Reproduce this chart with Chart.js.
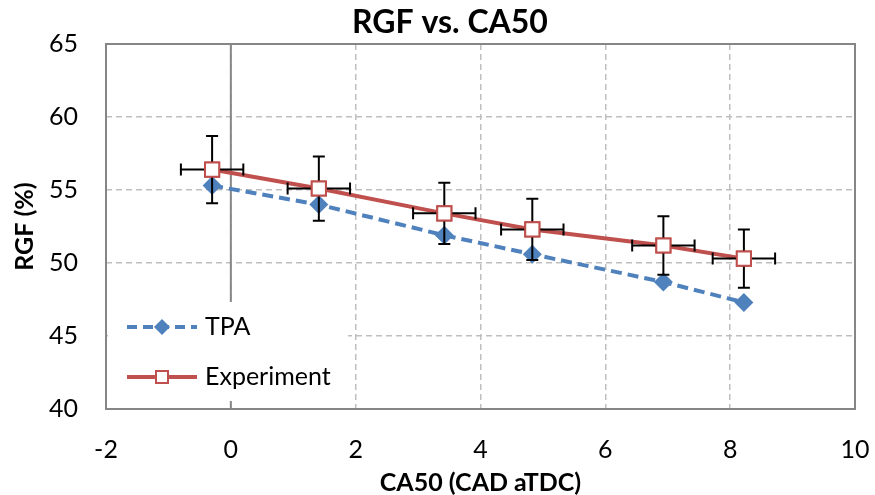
<!DOCTYPE html>
<html>
<head>
<meta charset="utf-8">
<script src="https://cdn.jsdelivr.net/npm/chart.js@4.4.0/dist/chart.umd.min.js"></script>
<style>
  html, body { margin: 0; padding: 0; background: #fff; }
  canvas { display: block; }
</style>
</head>
<body>
<canvas id="rgfChart" width="875" height="495"></canvas>
<script>
// Data
const ca50 = [-0.30, 1.41, 3.42, 4.83, 6.93, 8.22];
const tpaRgf = [55.3, 54.0, 51.9, 50.6, 48.7, 47.3];
const expRgf = [56.4, 55.1, 53.4, 52.3, 51.2, 50.3];
const expRgfErr = [2.3, 2.2, 2.1, 2.1, 2.0, 2.0];
const expCa50Err = [0.5, 0.5, 0.5, 0.5, 0.5, 0.5];
const seriesNames = ["TPA", "Experiment"];
const chartTitle = "RGF vs. CA50";

const BLUE = "#4F81BD";
const RED = "#C0504D";
const GRID = "#BFBFBF";
const FRAME = "#868686";
const FONT = "Lato, 'Open Sans', sans-serif";

function toPoints(xs, ys) {
  return xs.map((x, i) => ({ x: x, y: ys[i] }));
}

// Vertical axis line at x = 0 (Excel crossing), under the series
const zeroAxisPlugin = {
  id: "zeroAxis",
  beforeDatasetsDraw(chart) {
    const { ctx, chartArea, scales } = chart;
    const px = scales.x.getPixelForValue(0);
    ctx.save();
    ctx.strokeStyle = FRAME;
    ctx.lineWidth = 2;
    ctx.beginPath();
    ctx.moveTo(px, chartArea.top);
    ctx.lineTo(px, chartArea.bottom);
    ctx.stroke();
    ctx.restore();
  }
};

// Error bars for the experiment series, placed through the scales
const errorBarPlugin = {
  id: "errorBars",
  afterDatasetsDraw(chart) {
    const { ctx, scales } = chart;
    const cap = 6;
    ctx.save();
    ctx.strokeStyle = "#000";
    ctx.lineWidth = 2;
    ca50.forEach((x, i) => {
      const y = expRgf[i];
      const cx = scales.x.getPixelForValue(x);
      const cy = scales.y.getPixelForValue(y);
      const yTop = scales.y.getPixelForValue(y + expRgfErr[i]);
      const yBot = scales.y.getPixelForValue(y - expRgfErr[i]);
      const xL = scales.x.getPixelForValue(x - expCa50Err[i]);
      const xR = scales.x.getPixelForValue(x + expCa50Err[i]);
      ctx.beginPath();
      ctx.moveTo(cx, yTop); ctx.lineTo(cx, yBot);
      ctx.moveTo(cx - cap, yTop); ctx.lineTo(cx + cap, yTop);
      ctx.moveTo(cx - cap, yBot); ctx.lineTo(cx + cap, yBot);
      ctx.moveTo(xL, cy); ctx.lineTo(xR, cy);
      ctx.moveTo(xL, cy - cap); ctx.lineTo(xL, cy + cap);
      ctx.moveTo(xR, cy - cap); ctx.lineTo(xR, cy + cap);
      ctx.stroke();
    });
    ctx.restore();
    // redraw the experiment markers over the bars
    const meta = chart.getDatasetMeta(1);
    meta.data.forEach(pt => pt.draw(ctx, chart.chartArea));
  }
};

// Title, legend inside the plot, frame round the plot
const legendFramePlugin = {
  id: "legendFrame",
  afterDraw(chart) {
    const { ctx, chartArea } = chart;
    ctx.save();

    ctx.fillStyle = "#000";
    ctx.font = "bold 32px " + FONT;
    ctx.textAlign = "center";
    ctx.textBaseline = "middle";
    ctx.fillText(chartTitle, 450, 23);

    ctx.fillStyle = "#fff";
    ctx.fillRect(108, 302, 240, 99);

    const rows = [
      { y: 327, color: BLUE, dash: [10, 6], marker: "diamond", label: seriesNames[0] },
      { y: 377, color: RED, dash: [], marker: "square", label: seriesNames[1] }
    ];
    rows.forEach(r => {
      ctx.strokeStyle = r.color;
      ctx.lineWidth = 4;
      ctx.setLineDash(r.dash);
      ctx.beginPath();
      ctx.moveTo(127, r.y);
      ctx.lineTo(197, r.y);
      ctx.stroke();
      ctx.setLineDash([]);
      if (r.marker === "diamond") {
        ctx.fillStyle = BLUE;
        ctx.beginPath();
        ctx.moveTo(162 - 8, r.y);
        ctx.lineTo(162, r.y - 8);
        ctx.lineTo(162 + 8, r.y);
        ctx.lineTo(162, r.y + 8);
        ctx.closePath();
        ctx.fill();
      } else {
        ctx.fillStyle = "#fff";
        ctx.fillRect(156, r.y - 6, 12, 12);
        ctx.strokeStyle = RED;
        ctx.lineWidth = 2;
        ctx.strokeRect(156, r.y - 6, 12, 12);
      }
      ctx.fillStyle = "#000";
      ctx.font = "25px " + FONT;
      ctx.textBaseline = "middle";
      ctx.textAlign = "left";
      ctx.fillText(r.label, 205, r.y);
    });

    ctx.strokeStyle = FRAME;
    ctx.lineWidth = 2;
    ctx.strokeRect(chartArea.left, chartArea.top,
      chartArea.right - chartArea.left, chartArea.bottom - chartArea.top);
    ctx.restore();
  }
};

new Chart(document.getElementById("rgfChart"), {
  type: "line",
  data: {
    datasets: [
      {
        label: seriesNames[0],
        data: toPoints(ca50, tpaRgf),
        borderColor: BLUE,
        borderWidth: 4,
        borderDash: [11, 6],
        backgroundColor: BLUE,
        pointStyle: "rectRot",
        pointRadius: 9.5,
        pointBackgroundColor: BLUE,
        pointBorderColor: BLUE,
        pointBorderWidth: 0,
        tension: 0,
        order: 1
      },
      {
        label: seriesNames[1],
        data: toPoints(ca50, expRgf),
        borderColor: RED,
        borderWidth: 4,
        backgroundColor: "#fff",
        pointStyle: "rect",
        pointRadius: 10,
        pointBackgroundColor: "#fff",
        pointBorderColor: RED,
        pointBorderWidth: 2,
        tension: 0,
        order: 0
      }
    ]
  },
  options: {
    responsive: false,
    animation: false,
    devicePixelRatio: 1,
    layout: { padding: { left: 0, right: 20, top: 44, bottom: 0 } },
    plugins: {
      legend: { display: false },
      tooltip: { enabled: false },
      title: { display: false }
    },
    scales: {
      x: {
        type: "linear",
        min: -2,
        max: 10,
        afterFit(scale) {
          scale.height = 86;
          scale.paddingLeft = 0;
          scale.paddingRight = 0;
        },
        ticks: {
          stepSize: 2,
          color: "#000",
          padding: 26,
          font: { family: FONT, size: 25 }
        },
        grid: { color: GRID, lineWidth: 1.5, drawTicks: false },
        border: { display: false, dash: [6, 4] },
        title: {
          display: true,
          text: "CA50 (CAD aTDC)",
          color: "#000",
          font: { family: FONT, size: 25, weight: "bold" },
          padding: { top: 0, bottom: -3 }
        }
      },
      y: {
        type: "linear",
        min: 40,
        max: 65,
        afterFit(scale) {
          scale.width = 106;
          scale.paddingTop = 0;
          scale.paddingBottom = 0;
        },
        ticks: {
          stepSize: 5,
          color: "#000",
          padding: 28,
          font: { family: FONT, size: 25 }
        },
        grid: { color: GRID, lineWidth: 1.5, drawTicks: false },
        border: { display: false, dash: [6, 4] },
        title: {
          display: true,
          text: "RGF (%)",
          color: "#000",
          font: { family: FONT, size: 25, weight: "bold" },
          padding: { top: 10, bottom: 0 }
        }
      }
    }
  },
  plugins: [zeroAxisPlugin, errorBarPlugin, legendFramePlugin]
});
</script>
</body>
</html>
